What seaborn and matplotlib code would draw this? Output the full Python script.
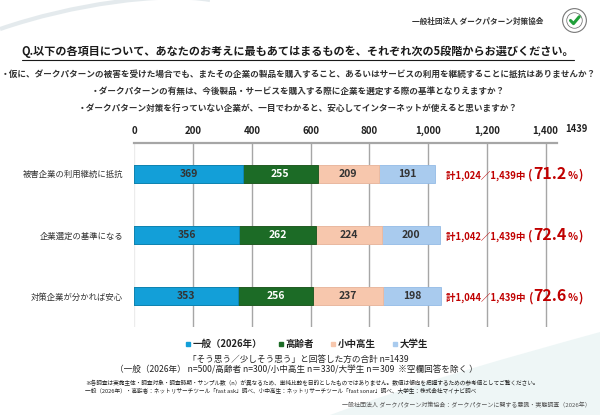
import numpy as np
import pandas as pd
import matplotlib
matplotlib.use('Agg')
import matplotlib.pyplot as plt
import seaborn as sns
from matplotlib.lines import Line2D
from matplotlib.patches import Circle, PathPatch
from matplotlib.path import Path
from matplotlib.offsetbox import TextArea, HPacker, AnnotationBbox

# データ
items = ['被害企業の利用継続に抵抗', '企業選定の基準になる', '対策企業が分かれば安心']
groups = ['一般（2026年）', '高齢者', '小中高生', '大学生']
ippan = [369, 356, 353]
koureisha = [255, 262, 256]
shouchuukou = [209, 224, 237]
daigakusei = [191, 200, 198]
n_total = 1439
xticks = [0, 200, 400, 600, 800, 1000, 1200, 1400]

colors = ['#139fd8', '#1c6b26', '#f7c7ad', '#a9cbee']
edges = ['#0e86bb', '#13531b', '#f0b89a', '#93bbe6']
text_colors = ['#333333', '#ffffff', '#333333', '#333333']

df = pd.DataFrame({'item': items, groups[0]: ippan, groups[1]: koureisha,
                   groups[2]: shouchuukou, groups[3]: daigakusei})
cum = df[groups].cumsum(axis=1)
totals = cum[groups[-1]]

sns.set_style('white')
plt.rcParams['font.family'] = ['Noto Sans CJK JP', 'DejaVu Sans']

fig = plt.figure(figsize=(6, 4.15), dpi=100)
fig.patch.set_facecolor('white')

# 背景の装飾（うすい曲線）
sw1 = Path([(0, 0.93), (0.12, 0.99), (0.27, 1.02), (0.35, 1.0)],
           [Path.MOVETO, Path.CURVE4, Path.CURVE4, Path.CURVE4])
fig.patches.append(PathPatch(sw1, transform=fig.transFigure, fill=False,
                             edgecolor='#d9e2e6', lw=3, alpha=0.7))
sw2 = Path([(0.55, 0.0), (0.7, 0.08), (0.85, 0.14), (1.0, 0.2), (1.0, 0.0), (0.55, 0.0)],
           [Path.MOVETO, Path.CURVE4, Path.CURVE4, Path.CURVE4, Path.LINETO, Path.CLOSEPOLY])
fig.patches.append(PathPatch(sw2, transform=fig.transFigure, facecolor='#e3f1f1',
                             edgecolor='none', alpha=0.6, zorder=0))

ax = fig.add_axes([0.2238, 0.2128, 0.7045, 0.4419])

# 積み上げ棒（累積値を後ろから重ねる）
for i in range(len(groups) - 1, -1, -1):
    g = groups[i]
    sns.barplot(x=cum[g], y=df['item'], orient='h', color=colors[i],
                edgecolor=edges[i], linewidth=0.6, width=0.3,
                errorbar=None, saturation=1, ax=ax, zorder=3)

for i, g in enumerate(groups):
    for j in range(len(items)):
        ax.text(cum[g][j] - df[g][j] / 2, j, f'{df[g][j]}', ha='center', va='center',
                fontsize=7.5, fontweight='bold', color=text_colors[i], zorder=5)

ax.set_xlim(0, n_total)
ax.set_ylim(2.5, -0.5)
ax.xaxis.tick_top()
ax.set_xticks(xticks)
ax.set_xticklabels([f'{v:,}' for v in xticks], fontsize=7, fontweight='bold', color='#222222')
ax.tick_params(axis='x', length=0, pad=5)
ax.tick_params(axis='y', length=0, pad=8, labelsize=6.0, labelcolor='#333333')
ax.set_xlabel('')
ax.set_ylabel('')
for s in ['right', 'bottom', 'left']:
    ax.spines[s].set_visible(False)
ax.spines['top'].set_color('#a6a6a6')
ax.spines['top'].set_linewidth(1.6)
ax.xaxis.grid(True, color='#a6a6a6', linewidth=1.0, zorder=0)
ax.set_axisbelow(True)
ax.get_xgridlines()[0].set_color('#ececec')

ax.annotate(f'{n_total}', xy=(n_total, 1), xycoords=('data', 'axes fraction'),
            xytext=(6, 7), textcoords='offset points', ha='left', va='bottom',
            fontsize=6.8, fontweight='bold', color='#222222', annotation_clip=False)

# 合計と割合
red = '#c00000'
for j in range(len(items)):
    pct = totals[j] / n_total * 100
    parts = [
        TextArea(f'計{totals[j]:,}／{n_total:,}中 ', textprops=dict(fontsize=6.8, fontweight='bold', color=red)),
        TextArea('(', textprops=dict(fontsize=8.5, fontweight='bold', color=red)),
        TextArea(f'{pct:.1f}', textprops=dict(fontsize=11.5, fontweight='bold', color=red)),
        TextArea('%', textprops=dict(fontsize=7.5, fontweight='bold', color=red)),
        TextArea(')', textprops=dict(fontsize=8.5, fontweight='bold', color=red)),
    ]
    box = HPacker(children=parts, align='baseline', pad=0, sep=0.5)
    ab = AnnotationBbox(box, (totals.max() + 18, j), xycoords='data',
                        box_alignment=(0, 0.5), frameon=False, zorder=6,
                        annotation_clip=False)
    ax.add_artist(ab)

# 凡例
handles = [Line2D([0], [0], marker='s', linestyle='none', markersize=3.5,
                  markerfacecolor=c, markeredgecolor=c) for c in colors]
leg = fig.legend(handles, groups, loc='center', bbox_to_anchor=(0.51, 1 - 344 / 415),
                 ncol=4, frameon=False, handletextpad=0.1, columnspacing=1.6,
                 handlelength=0.8, prop=dict(size=6.8, weight='bold'))
for t in leg.get_texts():
    t.set_color('#222222')

# タイトルと設問
org = fig.text(543 / 600, 1 - 21 / 415, '一般社団法人 ダークパターン対策協会', ha='right', va='center',
               fontsize=5.5, fontweight='bold', color='#333333')
title = fig.text(298 / 600, 1 - 52 / 415,
                 'Q.以下の各項目について、あなたのお考えに最もあてはまるものを、それぞれ次の5段階からお選びください。',
                 ha='center', va='center', fontsize=8, fontweight='bold', color='#1a1a1a')
qs = ['・仮に、ダークパターンの被害を受けた場合でも、またその企業の製品を購入すること、あるいはサービスの利用を継続することに抵抗はありませんか？',
      '・ダークパターンの有無は、今後製品・サービスを購入する際に企業を選定する際の基準となりえますか？',
      '・ダークパターン対策を行っていない企業が、一目でわかると、安心してインターネットが使えると思いますか？']
for k, (q, y) in enumerate(zip(qs, [74, 91, 108])):
    fig.text(298 / 600, 1 - y / 415, q, ha='center', va='center', fontsize=6.2,
             fontweight='bold', color='#333333')

fig.text(298 / 600, 1 - 359 / 415, '「そう思う／少しそう思う」と回答した方の合計 n=1439',
         ha='center', va='center', fontsize=6.2, color='#222222')
fig.text(296 / 600, 1 - 370 / 415,
         '（一般（2026年） n=500/高齢者 n=300/小中高生 n＝330/大学生 n＝309  ※空欄回答を除く ）',
         ha='center', va='center', fontsize=6.2, color='#222222')
fig.text(85 / 600, 1 - 383 / 415,
         '※各調査は実施主体・調査対象・調査時期・サンプル数（n）が異なるため、単純比較を目的としたものではありません。数値は傾向を把握するための参考値としてご覧ください。',
         ha='left', va='center', fontsize=4.1, color='#222222')
fig.text(85 / 600, 1 - 391 / 415,
         '一般（2026年）・高齢者：ネットリサーチツール「fast ask」調べ、小中高生：ネットリサーチツール「fast sonar」調べ、大学生：株式会社マイナビ調べ',
         ha='left', va='center', fontsize=4.1, color='#222222')
fig.text(591 / 600, 1 - 405 / 415,
         '一般社団法人 ダークパターン対策協会：ダークパターンに関する意識・実態調査（2026年）',
         ha='right', va='center', fontsize=4.3, color='#555555')

# ロゴ
lax = fig.add_axes([562 / 600, 1 - 33 / 415, 25 / 600, 25 / 415])
lax.set_xlim(-1, 1)
lax.set_ylim(-1, 1)
lax.set_aspect('equal')
lax.axis('off')
lax.add_patch(Circle((0, 0), 0.95, fill=False, edgecolor='#777777', lw=0.8))
lax.add_patch(Circle((0, 0), 0.62, fill=False, edgecolor='#777777', lw=0.6))
lax.add_patch(Circle((0, 0), 0.55, facecolor='white', edgecolor='none'))
lax.plot([-0.32, -0.08, 0.38], [0.0, -0.25, 0.3], color='#21a03a', lw=2.2,
         solid_capstyle='round', solid_joinstyle='round')

# タイトルの下線
fig.canvas.draw()
bb = title.get_window_extent().transformed(fig.transFigure.inverted())
fig.add_artist(Line2D([bb.x0, bb.x1], [bb.y0 - 0.003, bb.y0 - 0.003],
                      transform=fig.transFigure, color='#1a1a1a', lw=0.8))

fig.savefig('out.png', dpi=100)
